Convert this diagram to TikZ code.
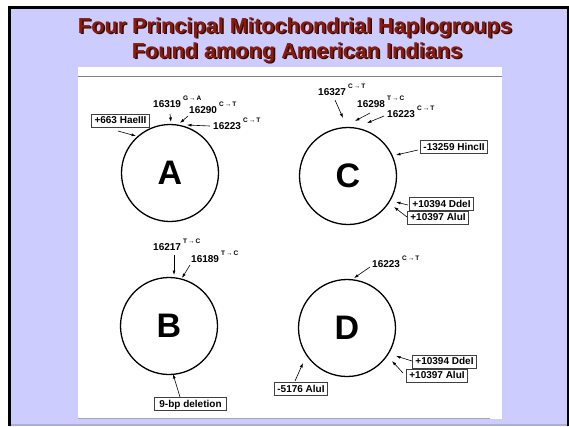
\documentclass[tikz,border=0pt]{standalone}
\usepackage{fontspec}
\setmainfont{Liberation Sans}
\usetikzlibrary{arrows.meta}

\definecolor{slidebg}{RGB}{204,204,255}
\definecolor{titlered}{RGB}{139,26,10}
\definecolor{titleshade}{RGB}{45,12,10}

\tikzset{
  ring/.style={circle, draw, line width=1.3pt, minimum size=97pt, inner sep=0pt,
    font=\fontsize{34}{34}\selectfont\bfseries},
  site/.style={anchor=base west, inner sep=0pt, font=\fontsize{10}{10}\selectfont\bfseries},
  enzyme/.style={draw=black!75, line width=0.5pt, inner xsep=3pt, inner ysep=2pt,
    text height=7.5pt, text depth=1.5pt, font=\fontsize{10}{10}\selectfont\bfseries},
  pointer/.style={-{Latex[length=4.5pt,width=3pt]}, line width=0.6pt},
  headline/.style={font=\fontsize{21.7}{25}\selectfont\bfseries, align=center, anchor=base}
}
\newcommand{\subst}[2]{\hspace{2pt}\raisebox{6.5pt}{\fontsize{6.5}{7}\selectfont #1\,→\,#2}}

\begin{document}
\begin{tikzpicture}[x=1pt, y=-1pt]
        \useasboundingbox (0,0) rectangle (569,426);
        % Slide background and frame
        \fill[white] (0,0) rectangle (569,426);
        \fill[black] (8,6) rectangle (569,426);
        \fill[slidebg] (11,9) rectangle (567,426);
        \fill[slidebg!85!black] (11,424) rectangle (567,426);

        % Title with shadow
        \node[headline, text=titleshade] (titleshadeA) at (296.5,34.5) {Four Principal Mitochondrial Haplogroups};
        \node[headline, text=titleshade] (titleshadeB) at (298.5,59.5) {Found among American Indians};
        \node[headline, text=titlered] (titleA) at (295,33) {Four Principal Mitochondrial Haplogroups};
        \node[headline, text=titlered] (titleB) at (297,58) {Found among American Indians};

        % Figure panel
        \fill[white] (78,67) rectangle (502,419);
        \draw[gray, line width=0.8pt] (78,76) -- (502,76);
        \draw[gray!70, line width=0.8pt] (78,418) -- (490,418);

        % Haplogroup circles
        \node[ring] (hgA) at (170,173) {A};
        \node[ring] (hgC) at (348,176) {C};
        \node[ring] (hgB) at (169,326) {B};
        \node[ring] (hgD) at (347,328) {D};

        % Haplogroup A
        \node[site] (a16319) at (153,107) {16319\subst{G}{A}};
        \node[site] (a16290) at (189,113) {16290\subst{C}{T}};
        \node[site] (a16223) at (213,129) {16223\subst{C}{T}};
        \node[enzyme] (aHae) at (120.5,120.5) {+663 HaeIII};
        \coordinate (aT1) at (170,114); \coordinate (aH1) at (171,122);
        \coordinate (aT2) at (188,116); \coordinate (aH2) at (180,123);
        \coordinate (aT3) at (210,126); \coordinate (aH3) at (187,125);
        \coordinate (aT4) at (118,131); \coordinate (aH4) at (136,136);
        \draw[pointer] (aT1) -- (aH1);
        \draw[pointer] (aT2) -- (aH2);
        \draw[pointer] (aT3) -- (aH3);
        \draw[pointer] (aT4) -- (aH4);

        % Haplogroup C
        \node[site] (c16327) at (318,95) {16327\subst{C}{T}};
        \node[site] (c16298) at (357,107) {16298\subst{T}{C}};
        \node[site] (c16223) at (387,117) {16223\subst{C}{T}};
        \node[enzyme] (cHinc) at (454,147) {-13259 HincII};
        \node[enzyme] (cDde) at (441.5,204) {+10394 DdeI};
        \node[enzyme] (cAlu) at (438,217.5) {+10397 AluI};
        \coordinate (cT1) at (335,100); \coordinate (cH1) at (343,118);
        \coordinate (cT2) at (370,113); \coordinate (cH2) at (355,121);
        \coordinate (cT3) at (384,116); \coordinate (cH3) at (367,123);
        \coordinate (cT4) at (418,150); \coordinate (cH4) at (396,155);
        \coordinate (cT5) at (408,205); \coordinate (cH5) at (396,202);
        \coordinate (cT6) at (407,217); \coordinate (cH6) at (394,207);
        \draw[pointer] (cT1) -- (cH1);
        \draw[pointer] (cT2) -- (cH2);
        \draw[pointer] (cT3) -- (cH3);
        \draw[pointer] (cT4) -- (cH4);
        \draw[pointer] (cT5) -- (cH5);
        \draw[pointer] (cT6) -- (cH6);

        % Haplogroup B
        \node[site] (b16217) at (153,250) {16217\subst{T}{C}};
        \node[site] (b16189) at (191,262) {16189\subst{T}{C}};
        \node[enzyme, inner xsep=5pt] (bDel) at (190.5,404) {9-bp deletion};
        \coordinate (bT1) at (174,255); \coordinate (bH1) at (174,275);
        \coordinate (bT2) at (190,265); \coordinate (bH2) at (182,278);
        \coordinate (bT3) at (180,397); \coordinate (bH3) at (173,374);
        \draw[pointer] (bT1) -- (bH1);
        \draw[pointer] (bT2) -- (bH2);
        \draw[pointer] (bT3) -- (bH3);

        % Haplogroup D
        \node[site] (d16223) at (372,267) {16223\subst{C}{T}};
        \node[enzyme] (dDde) at (444.5,361.5) {+10394 DdeI};
        \node[enzyme] (dAlu) at (437,375.5) {+10397 AluI};
        \node[enzyme] (dAlu5) at (301,389) {-5176 AluI};
        \coordinate (dT1) at (370,267); \coordinate (dH1) at (354,278);
        \coordinate (dT2) at (412,361); \coordinate (dH2) at (396,356);
        \coordinate (dT3) at (403,373); \coordinate (dH3) at (392,361);
        \coordinate (dT4) at (295,381); \coordinate (dH4) at (303,363);
        \draw[pointer] (dT1) -- (dH1);
        \draw[pointer] (dT2) -- (dH2);
        \draw[pointer] (dT3) -- (dH3);
        \draw[pointer] (dT4) -- (dH4);
    \end{tikzpicture}
\end{document}
